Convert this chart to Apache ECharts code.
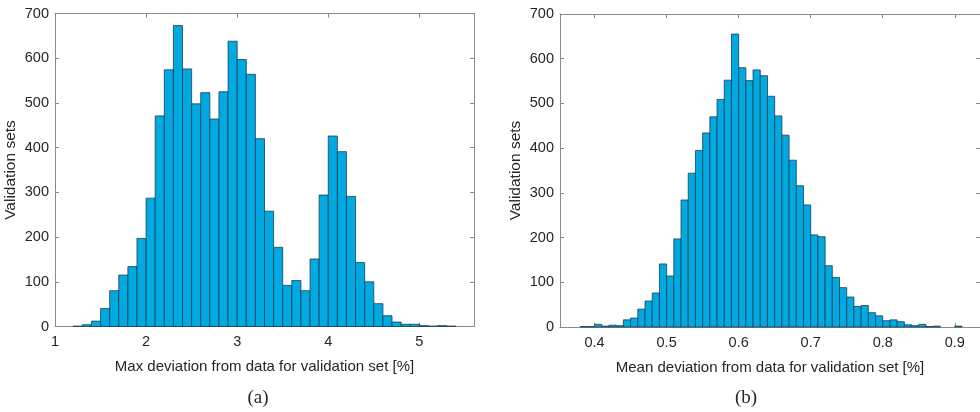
<!DOCTYPE html>
<html>
<head>
<meta charset="utf-8">
<script src="https://cdn.jsdelivr.net/npm/echarts@6/dist/echarts.min.js"></script>
<style>html,body{margin:0;padding:0;background:#fff}#c{width:980px;height:412px}</style>
</head>
<body>
<div id="c"></div>
<script>
// ---- data ----
const binWidthA = 0.1;
const binStartsA = [1.2,1.3,1.4,1.5,1.6,1.7,1.8,1.9,2.0,2.1,2.2,2.3,2.4,2.5,2.6,2.7,2.8,2.9,3.0,3.1,3.2,3.3,3.4,3.5,3.6,3.7,3.8,3.9,4.0,4.1,4.2,4.3,4.4,4.5,4.6,4.7,4.8,4.9,5.0,5.1,5.2,5.3];
const countsA = [1,4,12,40,80,115,134,197,287,471,574,673,576,498,523,464,525,638,597,564,420,258,177,92,103,80,151,294,426,391,291,143,100,51,24,10,5,5,2,1,2,1];
const binWidthB = 0.01;
const binStartsB = [0.38,0.39,0.40,0.41,0.42,0.43,0.44,0.45,0.46,0.47,0.48,0.49,0.50,0.51,0.52,0.53,0.54,0.55,0.56,0.57,0.58,0.59,0.60,0.61,0.62,0.63,0.64,0.65,0.66,0.67,0.68,0.69,0.70,0.71,0.72,0.73,0.74,0.75,0.76,0.77,0.78,0.79,0.80,0.81,0.82,0.83,0.84,0.85,0.86,0.87,0.88,0.89,0.90];
const countsB = [1,1,6,2,4,3,16,20,40,58,76,141,114,197,284,344,395,434,470,509,552,655,580,551,575,562,516,472,429,373,316,273,206,202,137,111,88,67,46,48,32,25,14,16,12,5,3,6,1,2,0,0,2];
const xTicksA = [1,2,3,4,5];
const xTicksB = [0.4,0.5,0.6,0.7,0.8,0.9];
const yTicks = [0,100,200,300,400,500,600,700];
const xLabelA = 'Max deviation from data for validation set [%]';
const xLabelB = 'Mean deviation from data for validation set [%]';
const yLabel = 'Validation sets';
const panelA = '(a)';
const panelB = '(b)';

const axisColor = '#8a8a8a';
const textColor = '#262626';
const barColor = '#00a9e0';
const edgeColor = '#1c3f55';
const font = 'Liberation Sans, Arial, sans-serif';

function histData(starts, counts, w) {
  return starts.map((s, i) => [s, +(s + w).toFixed(4), counts[i]]);
}
function renderBin(params, api) {
  const p0 = api.coord([api.value(0), 0]);
  const p1 = api.coord([api.value(1), api.value(2)]);
  if (api.value(2) <= 0) return null;
  return {
    type: 'rect',
    shape: { x: p0[0], y: p1[1], width: p1[0] - p0[0], height: p0[1] - p1[1] },
    style: { fill: barColor, stroke: edgeColor, lineWidth: 0.8 }
  };
}

const grids = [
  { left: 55, top: 13.5, width: 419, height: 313 },
  { left: 560, top: 14, width: 420, height: 313 }
];
function xAxes(gi, min, max, ticks, name) {
  return [
    { gridIndex: gi, type: 'value', min: min, max: max, position: 'bottom',
      name: name, nameLocation: 'middle', nameGap: 33,
      nameTextStyle: { color: textColor, fontSize: 15, fontFamily: font },
      axisLine: { show: true, onZero: false, lineStyle: { color: axisColor, width: 1 } },
      axisTick: { show: true, inside: true, length: 4, customValues: ticks, lineStyle: { color: axisColor } },
      axisLabel: { customValues: ticks, color: textColor, fontSize: 14.5, fontFamily: font, margin: 8 },
      splitLine: { show: false } },
    { gridIndex: gi, type: 'value', min: min, max: max, position: 'top',
      axisLine: { show: true, onZero: false, lineStyle: { color: axisColor, width: 1 } },
      axisTick: { show: true, inside: true, length: 4, customValues: ticks, lineStyle: { color: axisColor } },
      axisLabel: { show: false }, splitLine: { show: false } }
  ];
}
function yAxes(gi) {
  return [
    { gridIndex: gi, type: 'value', min: 0, max: 700, interval: 100, position: 'left',
      name: yLabel, nameLocation: 'middle', nameGap: 36,
      nameTextStyle: { color: textColor, fontSize: 15.5, fontFamily: font },
      axisLine: { show: true, lineStyle: { color: axisColor, width: 1 } },
      axisTick: { show: true, inside: true, length: 4, lineStyle: { color: axisColor } },
      axisLabel: { color: textColor, fontSize: 14.5, fontFamily: font, margin: 6 },
      splitLine: { show: false } },
    { gridIndex: gi, type: 'value', min: 0, max: 700, interval: 100, position: 'right',
      axisLine: { show: true, lineStyle: { color: axisColor, width: 1 } },
      axisTick: { show: true, inside: true, length: 4, lineStyle: { color: axisColor } },
      axisLabel: { show: false }, splitLine: { show: false } }
  ];
}

const chart = echarts.init(document.getElementById('c'), null, { renderer: 'canvas' });
chart.setOption({
  animation: false,
  backgroundColor: '#fff',
  grid: grids,
  xAxis: [].concat(xAxes(0, 1, 5.6, xTicksA, xLabelA), xAxes(1, 0.352, 0.935, xTicksB, xLabelB)),
  yAxis: [].concat(yAxes(0), yAxes(1)),
  series: [
    { type: 'custom', xAxisIndex: 0, yAxisIndex: 0, renderItem: renderBin,
      data: histData(binStartsA, countsA, binWidthA), encode: { x: [0, 1], y: 2 } },
    { type: 'custom', xAxisIndex: 2, yAxisIndex: 2, renderItem: renderBin,
      data: histData(binStartsB, countsB, binWidthB), encode: { x: [0, 1], y: 2 } }
  ],
  graphic: [
    { type: 'text', x: 258, y: 398, style: { text: panelA, fill: textColor, font: '19px "Liberation Serif", serif', textAlign: 'center', textVerticalAlign: 'middle' } },
    { type: 'text', x: 746, y: 398, style: { text: panelB, fill: textColor, font: '19px "Liberation Serif", serif', textAlign: 'center', textVerticalAlign: 'middle' } }
  ]
});
</script>
</body>
</html>
